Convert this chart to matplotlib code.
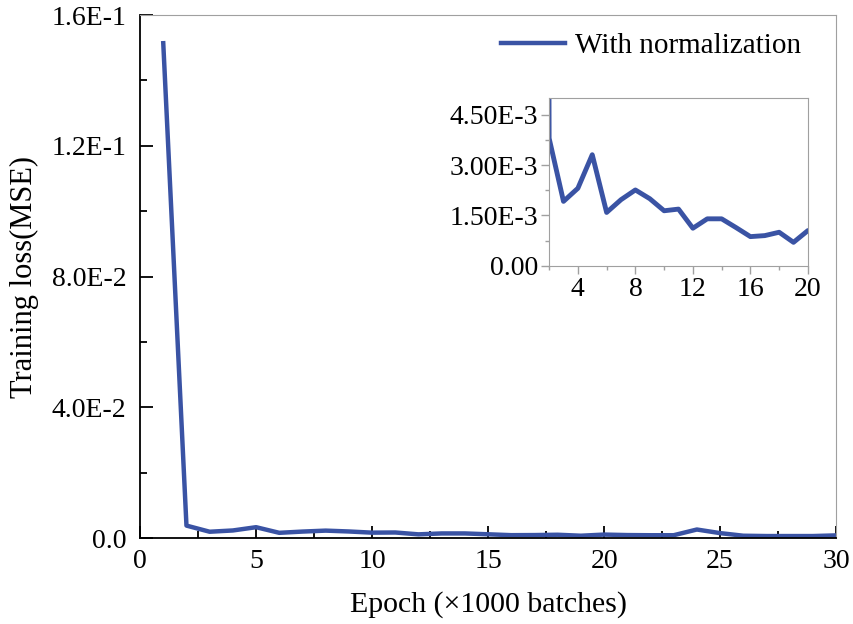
import matplotlib
matplotlib.use('Agg')
import matplotlib.pyplot as plt
from matplotlib.ticker import MultipleLocator, FixedLocator

plt.rcParams['font.family'] = ['Liberation Serif', 'DejaVu Serif']
plt.rcParams['mathtext.fontset'] = 'stix'

# loss per epoch (x1000 batches)
epochs = list(range(1, 31))
loss = [0.1514, 3.8e-3, 1.92e-3, 2.31e-3, 3.31e-3, 1.59e-3, 1.97e-3, 2.26e-3,
        2.0e-3, 1.64e-3, 1.69e-3, 1.12e-3, 1.40e-3, 1.40e-3, 1.14e-3, 0.87e-3,
        0.90e-3, 1.0e-3, 0.70e-3, 1.05e-3, 0.9e-3, 0.85e-3, 0.85e-3, 2.6e-3,
        1.5e-3, 0.7e-3, 0.6e-3, 0.6e-3, 0.6e-3, 0.8e-3]

main_yticks = [0.0, 0.04, 0.08, 0.12, 0.16]
main_ylabels = ['0.0', '4.0E-2', '8.0E-2', '1.2E-1', '1.6E-1']
inset_yticks = [0.0, 1.5e-3, 3.0e-3, 4.5e-3]
inset_ylabels = ['0.00', '1.50E-3', '3.00E-3', '4.50E-3']
inset_xticks = [4, 8, 12, 16, 20]

blue = '#3a53a4'
gray = '#a0a0a0'

fig = plt.figure(figsize=(8.54, 6.24), dpi=100)
ax = fig.add_axes([0.164, 0.1378, 0.815, 0.838])
ax.plot(epochs, loss, color=blue, lw=3.2, label='With normalization')
ax.set_xlim(0, 30)
ax.set_ylim(0, 0.16)
ax.xaxis.set_major_locator(MultipleLocator(5))
ax.xaxis.set_minor_locator(MultipleLocator(2.5))
ax.set_yticks(main_yticks)
ax.set_yticklabels(main_ylabels)
ax.yaxis.set_minor_locator(MultipleLocator(0.02))
ax.tick_params(which='both', direction='in', labelsize=20, width=1.3, color='black')
ax.tick_params(which='major', length=9)
ax.tick_params(which='minor', length=5)
ax.tick_params(axis='x', pad=8)
ax.tick_params(axis='y', pad=10)
for s in ['top', 'right']:
    ax.spines[s].set_color(gray)
for s in ['left', 'bottom']:
    ax.spines[s].set_linewidth(1.3)
ax.set_xlabel('Epoch (×1000 batches)', fontsize=21.5, labelpad=12)
ax.set_ylabel('Training loss(MSE)', fontsize=22, labelpad=9)
leg = ax.legend(loc='upper right', frameon=False, fontsize=21, handlelength=2.2,
                handletextpad=0.35, borderaxespad=0.2, bbox_to_anchor=(0.975, 1.0))

ins = fig.add_axes([0.643, 0.574, 0.303, 0.269])
ins.plot(epochs, loss, color=blue, lw=3.5)
ins.set_xlim(2, 20)
ins.set_ylim(0, 5e-3)
ins.xaxis.set_major_locator(FixedLocator(inset_xticks))
ins.xaxis.set_minor_locator(MultipleLocator(2))
ins.set_yticks(inset_yticks)
ins.set_yticklabels(inset_ylabels)
ins.yaxis.set_minor_locator(MultipleLocator(0.75e-3))
ins.tick_params(which='both', direction='out', labelsize=20, color=gray, width=1, pad=2)
ins.tick_params(which='major', length=6)
ins.tick_params(which='minor', length=3)
for s in ins.spines.values():
    s.set_color(gray)

fig.savefig('out.png', dpi=100)
